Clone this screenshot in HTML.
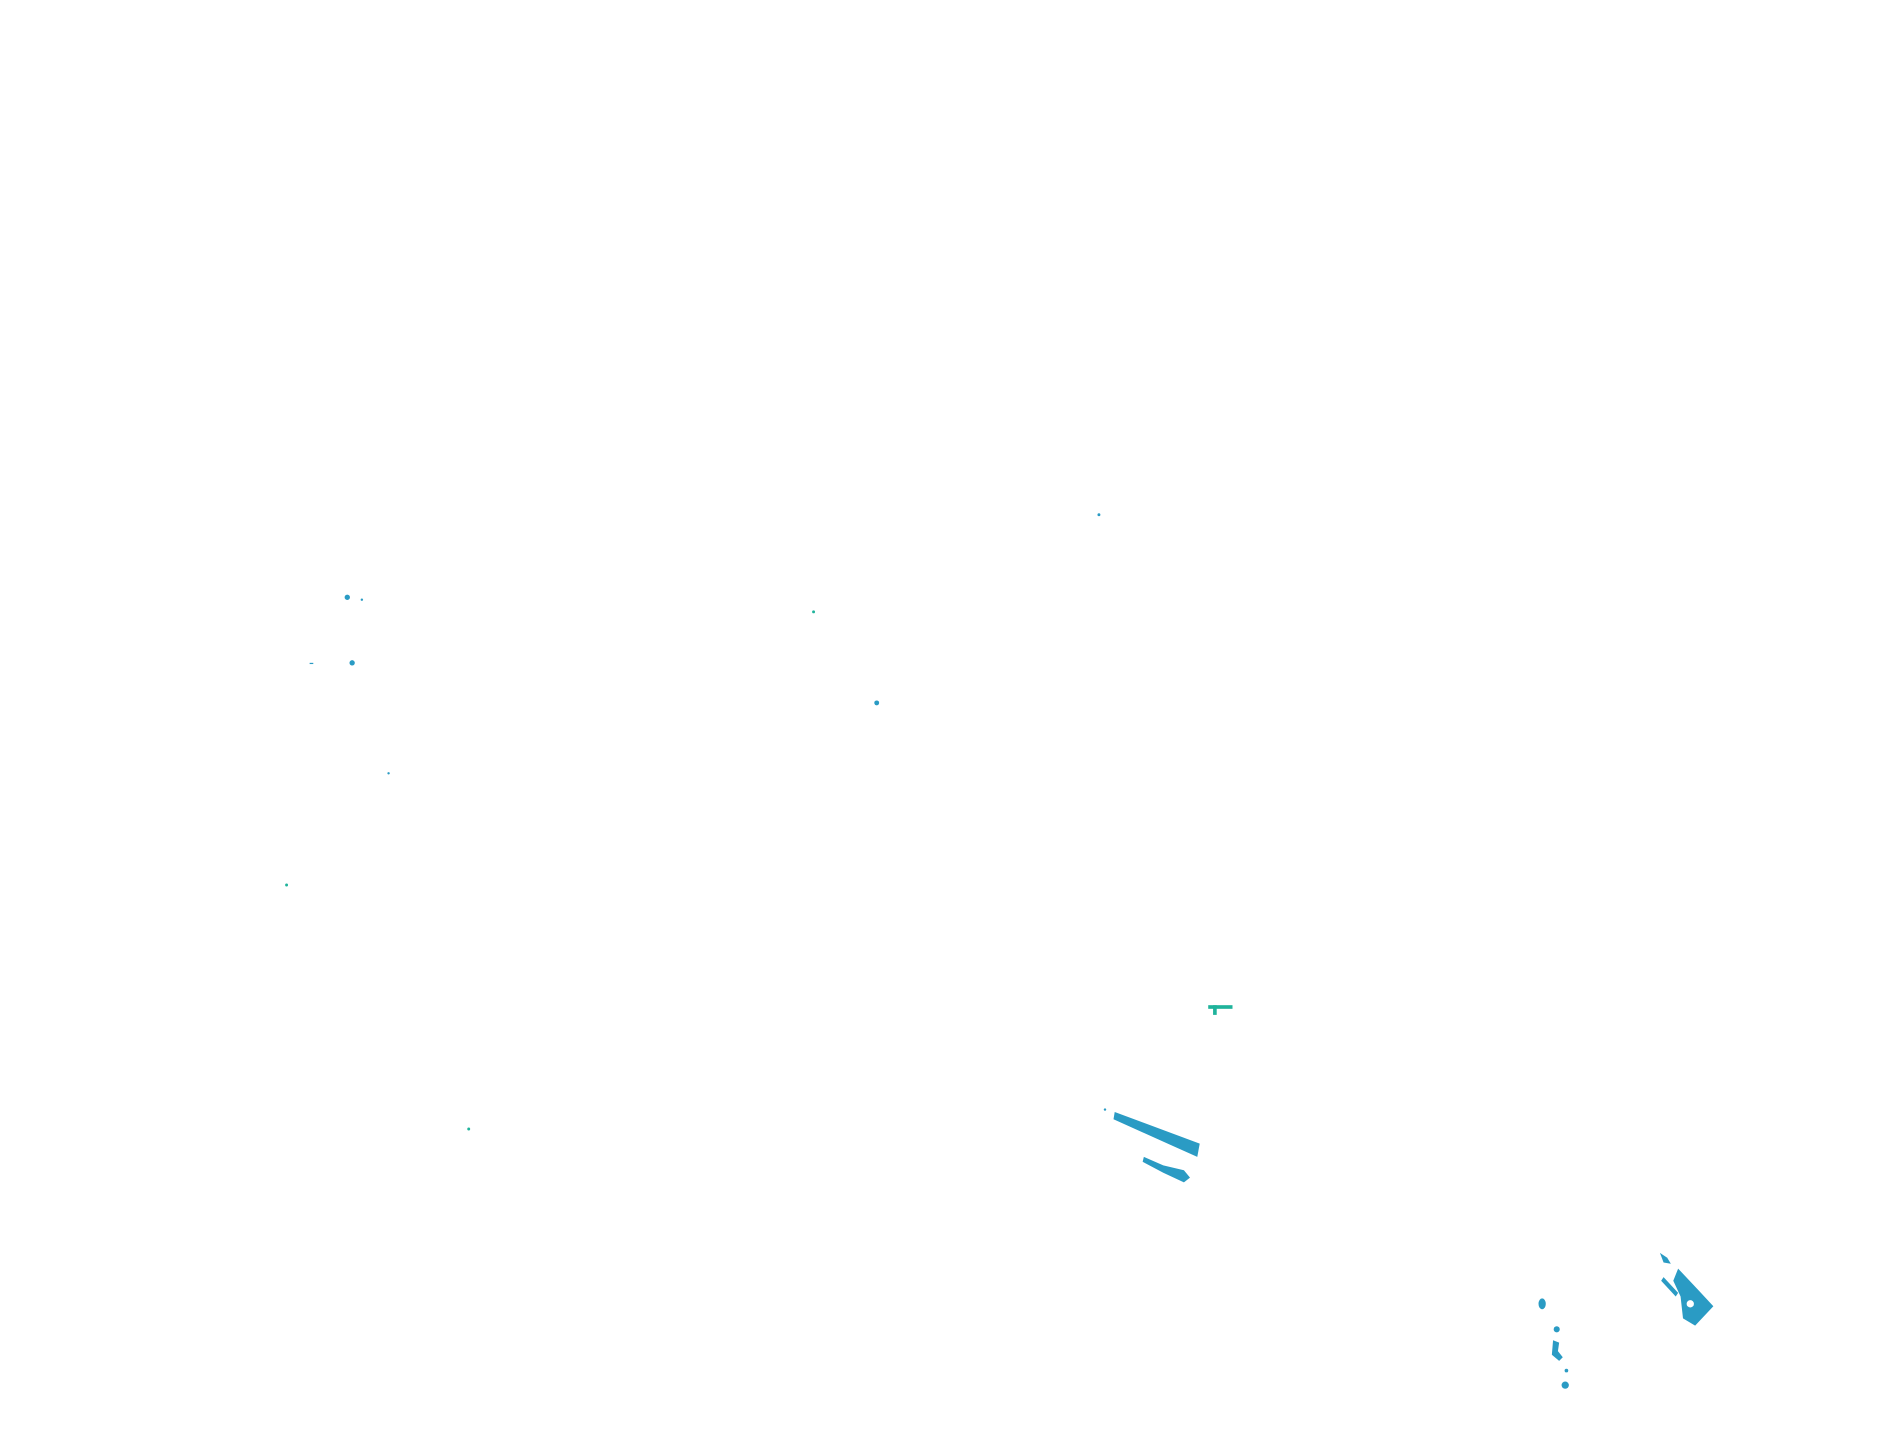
<!DOCTYPE html>
<html><head><style>html,body{margin:0;padding:0;background:#fff;width:1904px;height:1441px;overflow:hidden}</style></head>
<body>
<svg width="1904" height="1441" viewBox="0 0 1568 1187" preserveAspectRatio="none" xmlns="http://www.w3.org/2000/svg">
<g fill="#2a9bc4">
<circle cx="905" cy="424" r="1.2"/>
<circle cx="286" cy="492" r="2.2"/>
<circle cx="298" cy="494" r="1"/>
<circle cx="290" cy="546" r="2.2"/>
<rect x="255" y="546" width="3" height="1"/>
<circle cx="670" cy="504" r="1.2" fill="#1fb39b"/>
<circle cx="722" cy="579" r="2"/>
<circle cx="320" cy="637" r="1"/>
<circle cx="236" cy="729" r="1.2" fill="#1fb39b"/>
<circle cx="386" cy="930" r="1.2" fill="#1fb39b"/>
<rect x="995" y="828" width="20" height="3" fill="#1fb39b"/>
<rect x="999" y="828" width="3" height="8" fill="#1fb39b"/>
<polygon points="918,916 988,942 986,953 917,922"/>
<circle cx="910" cy="914" r="1"/>
<polygon points="942,953 958,960 975,964 980,970 975,974 958,966 941,957"/>
<polygon points="1382,1045 1398,1062 1411,1076 1396,1092 1386,1086 1384,1068 1378,1055"/>
<polygon points="1367,1032 1373,1036 1376,1041 1370,1040"/>
<polygon points="1370,1052 1382,1065 1380,1068 1368,1055"/>
<ellipse cx="1270" cy="1074" rx="3" ry="4.5"/>
<circle cx="1282" cy="1095" r="2.5"/>
<polygon points="1279,1104 1284,1106 1283,1113 1287,1118 1284,1121 1278,1116"/>
<circle cx="1290" cy="1129" r="1.5"/>
<circle cx="1289" cy="1141" r="3"/>
</g>
<circle cx="1392" cy="1074" r="3" fill="#fff"/>
</svg>
</body></html>
